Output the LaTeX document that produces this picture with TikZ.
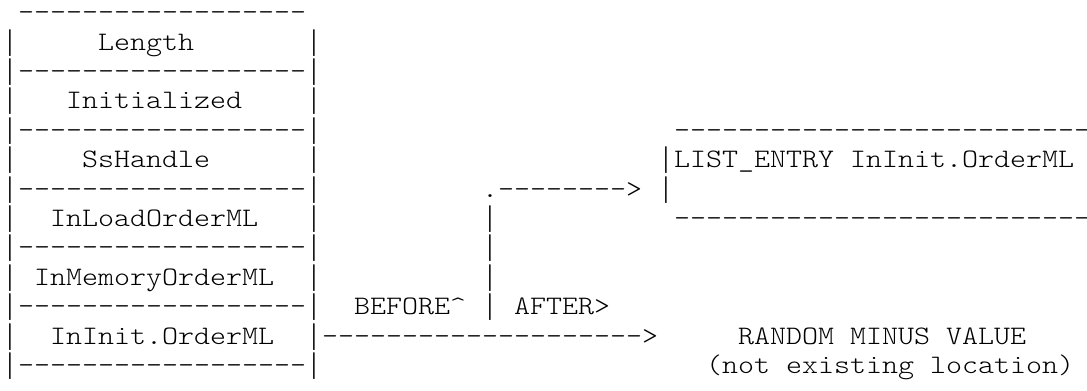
\documentclass[tikz,border=0pt]{standalone}
\usepackage{fontspec}
\usepackage{graphicx}
% light typewriter face, no TeX ligatures so that runs of hyphens stay hyphens
\newfontfamily\asciifont[Ligatures=TeXOff]{lmmonolt10-regular.otf}
% taller vertical bar, 0.6em advance like the grid
\newfontfamily\barfont{Liberation Mono}

% character grid: 12pt per column, 22.05pt per row, origin at the top left
\tikzset{
  glyphs/.style={anchor=base west, inner sep=0pt, outer sep=0pt,
    font=\asciifont\fontsize{20}{22}\selectfont},
  bar/.style={anchor=base west, inner sep=0pt, outer sep=0pt,
    font=\barfont\fontsize{20}{22}\selectfont},
}
% \putchars{name}{column}{row}{text}
\newcommand\putchars[4]{%
  \node[glyphs] (#1) at ({1.5pt+12pt*#2}, {-15.45pt-22.05pt*#3})
    {\scalebox{1.142857}[1]{#4}};%
}
% \putbar{name}{column}{row}
\newcommand\putbar[3]{%
  \node[bar] (#1) at ({1.5pt+12pt*#2}, {-15.45pt-22.05pt*#3})
    {\makebox[12pt]{\scalebox{0.7}[1.07]{|}}};%
}

\begin{document}
\begin{tikzpicture}
\useasboundingbox (0,0) rectangle (815.25pt,-292.5pt);
\fill[white] (0,0) rectangle (815.25pt,-292.5pt);

% ---- the structure, one field per cell ----
\putchars{boxtop}{1}{0}{------------------}
\foreach \r in {1,...,12} {
  \putbar{left\r}{0}{\r}
  \putbar{right\r}{19}{\r}
}
\putchars{length}{6}{1}{Length}
\putchars{sepA}{1}{2}{------------------}
\putchars{initialized}{4}{3}{Initialized}
\putchars{sepB}{1}{4}{------------------}
\putchars{sshandle}{5}{5}{SsHandle}
\putchars{sepC}{1}{6}{------------------}
\putchars{inload}{3}{7}{InLoadOrderML}
\putchars{sepD}{1}{8}{------------------}
\putchars{inmemory}{2}{9}{InMemoryOrderML}
\putchars{sepE}{1}{10}{------------------}
\putchars{ininit}{3}{11}{InInit.OrderML}
\putchars{sepF}{1}{12}{------------------}

% ---- the list entry on the right ----
\putchars{entrytop}{42}{4}{---------------------------}
\putbar{entryL}{41}{5}
\putchars{listentry}{42}{5}{LIST\_ENTRY}
\putchars{entryname}{53}{5}{InInit.OrderML}
\putbar{entryL2}{41}{6}
\putchars{entrybot}{42}{7}{---------------------------}

% ---- the branch: up to the entry (after), straight on (before) ----
\putchars{branchdot}{30}{6}{.}
\putchars{afterarrow}{31}{6}{-------->}
\foreach \r in {7,...,10} {
  \putbar{stem\r}{30}{\r}
}
\putchars{before}{22}{10}{BEFORE\textasciicircum}
\putchars{after}{32}{10}{AFTER>}
\putchars{beforearrow}{20}{11}{-------------------->}

% ---- the target of the old pointer ----
\putchars{randomA}{46}{11}{RANDOM}
\putchars{randomB}{53}{11}{MINUS}
\putchars{randomC}{59}{11}{VALUE}
\putchars{noteA}{44}{12}{(not}
\putchars{noteB}{49}{12}{existing}
\putchars{noteC}{58}{12}{location)}
\end{tikzpicture}
\end{document}
